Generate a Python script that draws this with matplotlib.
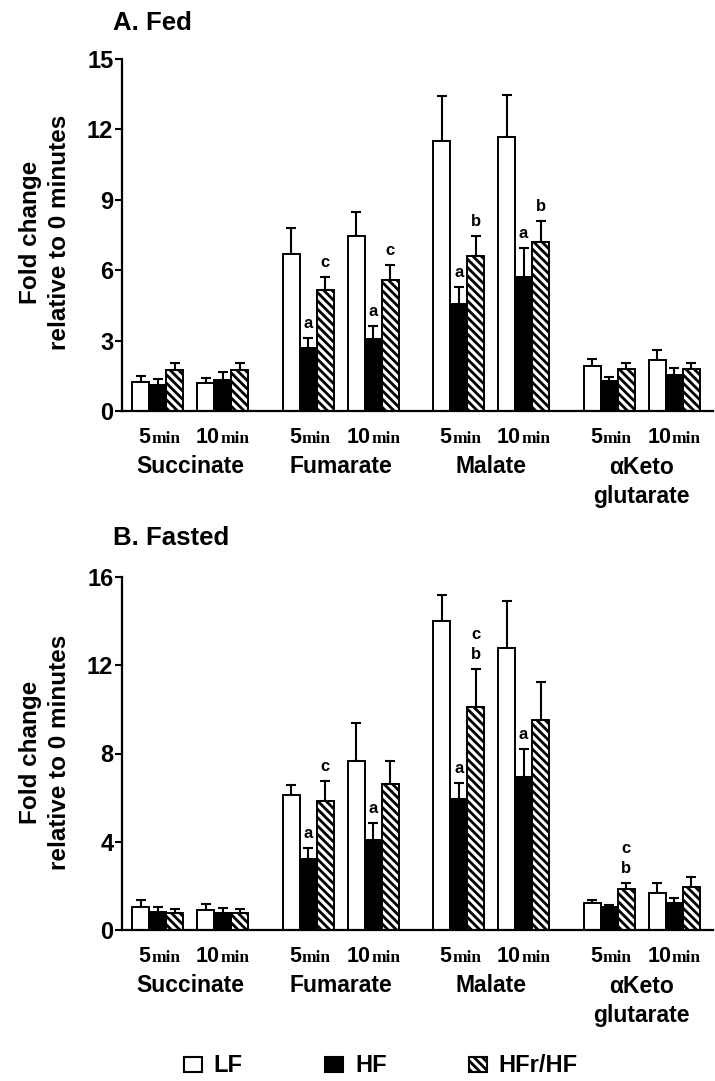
""" TCA intermediates fold change, fed vs fasted """
import numpy as np
import matplotlib
matplotlib.use("Agg")
import matplotlib.pyplot as plt
from matplotlib.patches import Patch

plt.rcParams['font.family'] = ['Liberation Sans', 'DejaVu Sans']
plt.rcParams['hatch.linewidth'] = 2.0

metabolites = ["Succinate", "Fumarate", "Malate", "\u03b1Keto\nglutarate"]
times = ["5", "10"]
groups = ["LF", "HF", "HFr/HF"]

# values per metabolite/time, order: succ5, succ10, fum5, fum10, mal5, mal10, akg5, akg10
fed_lf = [1.23, 1.2, 6.71, 7.44, 11.5, 11.68, 1.9, 2.18]
fed_lf_err = [0.27, 0.2, 1.09, 1.03, 1.92, 1.77, 0.32, 0.42]
fed_hf = [1.1, 1.3, 2.67, 3.06, 4.55, 5.72, 1.26, 1.55]
fed_hf_err = [0.25, 0.35, 0.43, 0.57, 0.75, 1.23, 0.21, 0.27]
fed_hfr = [1.75, 1.75, 5.14, 5.58, 6.62, 7.2, 1.77, 1.77]
fed_hfr_err = [0.3, 0.28, 0.58, 0.65, 0.82, 0.88, 0.26, 0.26]

fast_lf = [1.06, 0.89, 6.14, 7.65, 13.99, 12.78, 1.22, 1.67]
fast_lf_err = [0.29, 0.3, 0.41, 1.71, 1.2, 2.15, 0.16, 0.44]
fast_hf = [0.83, 0.78, 3.22, 4.06, 5.96, 6.92, 1.02, 1.22]
fast_hf_err = [0.23, 0.21, 0.48, 0.78, 0.7, 1.3, 0.13, 0.21]
fast_hfr = [0.78, 0.78, 5.86, 6.6, 10.09, 9.52, 1.84, 1.97]
fast_hfr_err = [0.16, 0.16, 0.88, 1.08, 1.74, 1.7, 0.29, 0.43]

# significance letters: (index into the 8 slots, group index, text)
fed_letters = [(2, 1, "a"), (2, 2, "c"), (3, 1, "a"), (3, 2, "c"),
               (4, 1, "a"), (4, 2, "b"), (5, 1, "a"), (5, 2, "b")]
fast_letters = [(2, 1, "a"), (2, 2, "c"), (3, 1, "a"), (4, 1, "a"),
                (4, 2, "c\nb"), (5, 1, "a"), (6, 2, "c\nb")]

bw = 1.0
met_step = 8.85
time_step = 3.82
first = 2.12
centers = np.array([first + m * met_step + t * time_step
                    for m in range(4) for t in range(2)])


def draw_panel(ax, means, errs, letters, ymax, ystep):
    styles = [dict(color="white", edgecolor="black"),
              dict(color="black", edgecolor="black"),
              dict(color="white", edgecolor="black", hatch="\\\\\\\\")]
    for g in range(3):
        xs = centers + (g - 1) * bw
        ax.bar(xs, means[g], width=bw, linewidth=1.4, zorder=2, **styles[g])
        ax.errorbar(xs, means[g], yerr=[np.zeros(8), errs[g]], fmt="none",
                    ecolor="black", elinewidth=1.5, capsize=3.5,
                    capthick=1.5, zorder=1)
    for slot, g, txt in letters:
        x = centers[slot] + (g - 1) * bw
        y = means[g][slot] + errs[g][slot]
        ax.annotate(txt, (x, y), xytext=(0, 5), textcoords="offset points",
                    ha="center", va="bottom", fontsize=12, fontweight="bold",
                    linespacing=1.45)
    ax.set_xlim(0, 34.78)
    ax.set_ylim(0, ymax)
    ax.set_yticks(np.arange(0, ymax + 1, ystep))
    ax.tick_params(axis="y", labelsize=17, width=1.5, length=4.8, pad=1.2)
    for lab in ax.get_yticklabels():
        lab.set_fontweight("bold")
    ax.set_xticks([])
    for s in ["top", "right"]:
        ax.spines[s].set_visible(False)
    for s in ["left", "bottom"]:
        ax.spines[s].set_linewidth(1.6)
    # time labels: bold sans number + bold serif "min" on one baseline
    for i, c in enumerate(centers):
        num = times[i % 2]
        dx = -5 if num == "5" else -2
        t = ax.annotate(num, (c, 0), xycoords=("data", "axes fraction"),
                        xytext=(dx, -23), textcoords="offset points",
                        ha="right", va="baseline", fontsize=15.5,
                        fontweight="bold")
        ax.annotate("min", (1, 0), xycoords=(t, "axes fraction"),
                    xytext=(0.5, -23), textcoords="offset points",
                    ha="left", va="baseline", fontsize=12.5,
                    fontweight="bold", family="Liberation Serif")
    for m, name in enumerate(metabolites):
        mid = (centers[2 * m] + centers[2 * m + 1]) / 2
        yoff = -51 if "\n" in name else -40
        ax.annotate(name, (mid, 0), xycoords=("data", "axes fraction"),
                    xytext=(0, yoff), textcoords="offset points",
                    ha="center", va="center", fontsize=16.5,
                    fontweight="bold", linespacing=1.3)


fig = plt.figure(figsize=(7.15, 10.81), dpi=100)
W, H = 715.0, 1081.0
axA = fig.add_axes([121.7 / W, 1 - 411 / H, 591.3 / W, 352 / H])
axB = fig.add_axes([121.7 / W, 1 - 930 / H, 591.3 / W, 353 / H])

draw_panel(axA, [fed_lf, fed_hf, fed_hfr], [fed_lf_err, fed_hf_err, fed_hfr_err],
           fed_letters, 15, 3)
draw_panel(axB, [fast_lf, fast_hf, fast_hfr],
           [fast_lf_err, fast_hf_err, fast_hfr_err], fast_letters, 16, 4)

fig.text(113 / W, 1 - 23 / H, "A. Fed", fontsize=18.5, fontweight="bold",
         ha="left", va="center")
fig.text(113 / W, 1 - 538 / H, "B. Fasted", fontsize=18.5, fontweight="bold",
         ha="left", va="center")
for yc in [232, 752]:
    fig.text(45 / W, 1 - yc / H, "Fold change\nrelative to 0 minutes",
             rotation=90, ha="center", va="center", fontsize=17.5,
             fontweight="bold", linespacing=1.35)

handles = [Patch(facecolor="white", edgecolor="black", linewidth=1.5),
           Patch(facecolor="black", edgecolor="black", linewidth=1.5),
           Patch(facecolor="white", edgecolor="black", linewidth=1.5,
                 hatch="\\\\\\\\")]
leg = fig.legend(handles, groups, loc="center", ncol=3, frameon=False,
                 bbox_to_anchor=(381 / W, 1 - 1066 / H), handlelength=0.75,
                 handleheight=0.6, columnspacing=3.5, handletextpad=0.5,
                 prop={"size": 17, "weight": "bold"})

fig.savefig("out.png", dpi=100)
